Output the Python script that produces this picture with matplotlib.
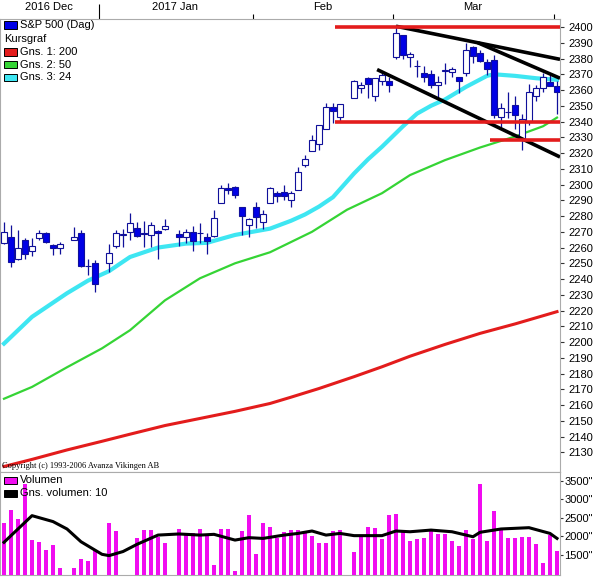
import matplotlib
matplotlib.use('Agg')
import matplotlib.pyplot as plt
from matplotlib.patches import Rectangle
import numpy as np

plt.rcParams['font.family'] = ['Liberation Sans', 'DejaVu Sans']

# weekday slots: 0 = 2016-12-13 ... 79 = 2017-04-03, None = market closed
opens = [2263, 2267, 2253, 2265, 2258, 2266, 2269, 2261.5, 2259.5, None,
         2265, 2269, 2248, 2250, None, 2250.5, 2261, 2268, 2270, 2272.5,
         2269.5, 2268, 2270.5, 2272, None, 2268.5, 2267, 2270, 2269.5, 2267,
         2267.5, 2288.5, 2298, 2298.5, 2285.5, 2274, 2285.5, 2276.5, 2288.5, 2294.5,
         2295.5, 2290, 2296.5, 2312.5, 2321.5, 2326, 2335.5, 2349.5, 2343, None,
         2355, 2361, 2367.5, 2356, 2365.5, 2366, 2381, 2395, 2381, 2375.5,
         2370.5, 2370, 2363.5, 2372, 2371.5, 2368.5, 2370.5, 2387.5, 2383.5, 2378,
         2379, 2343, 2346, 2350.5, 2329, 2340, 2356.5, 2361.5, 2365, 2362.5]
highs = [2276, 2274, 2271, 2266, 2266, 2271, 2270, 2262, 2263.5, None,
         2273, 2271, 2253, 2252, None, 2262, 2271, 2272, 2282, 2276,
         2277, 2276, 2271, 2278, None, 2271, 2272, 2273.5, 2275.5, 2269,
         2284, 2300, 2301, 2299, 2286, 2279, 2289, 2284, 2298.5, 2296,
         2299.5, 2296, 2311, 2319, 2331.5, 2337.5, 2351.5, 2351.5, 2351, None,
         2366.5, 2365, 2368.5, 2367.5, 2371.5, 2368, 2401, 2395, 2384, 2379,
         2375, 2373, 2369, 2377, 2374.5, 2368.5, 2390, 2388, 2385.5, 2379.5,
         2382, 2352, 2359, 2356, 2345, 2364, 2363.5, 2370.5, 2370.5, 2366]
lows = [2262, 2247.5, 2252, 2252.5, 2254.5, 2265, 2263, 2255, 2256, None,
        2264.5, 2247.5, 2242.5, 2232, None, 2244.5, 2260, 2260.5, 2264.5, 2266.5,
        2260.5, 2260.5, 2253, 2271, None, 2261, 2263, 2257.5, 2263, 2256,
        2266.5, 2288, 2294, 2291.5, 2268, 2267, 2272.5, 2271.5, 2288, 2289,
        2290, 2285.5, 2296.5, 2311, 2321.5, 2322, 2335, 2339, 2339.5, None,
        2355, 2358, 2355, 2353, 2363.5, 2359, 2380, 2380, 2374.5, 2368,
        2365, 2361, 2354.5, 2364, 2368.5, 2358, 2369, 2377, 2377.5, 2369.5,
        2342, 2336.5, 2342, 2335.5, 2322, 2337.5, 2353, 2358.5, 2362.5, 2344.5]
closes = [2270, 2251, 2260, 2256, 2261, 2269, 2263.5, 2259.5, 2262, None,
          2267, 2248, 2248, 2237, None, 2256.5, 2269, 2268.5, 2275.5, 2267.5,
          2268.5, 2274, 2269.5, 2273.5, None, 2266.5, 2270, 2264, 2269, 2264,
          2279, 2298, 2296.5, 2293.5, 2280, 2278, 2279.5, 2281, 2297.5, 2292.5,
          2293, 2294.5, 2308, 2316, 2328, 2337.5, 2349.5, 2347, 2351, None,
          2365.5, 2363, 2364, 2367.5, 2369.5, 2363.5, 2396, 2382, 2383, 2375,
          2368.5, 2363, 2365, 2373, 2373.5, 2365.5, 2385.5, 2381.5, 2378.5, 2373.5,
          2344, 2348.5, 2346, 2344, 2341.5, 2358.5, 2361, 2368, 2362.5, 2359]

volume = [2345, 2700, 2460, 3400, 1890, 1830, 1620, 1760, 1130, None,
          1130, 1370, 1320, 1620, None, 2345, 2135, None, None, 1940,
          2160, 2160, 1980, 1800, None, 2190, 2030, 2070, 2190, 2030,
          1215, 2190, 2190, 1055, 2135, 2570, 1515, 2345, 2250, 1940,
          2100, 2160, 2160, 2100, 2010, 1820, 1820, 2135, 2160, None,
          1580, 2010, 2250, 2225, 1920, 2570, 2595, 2160, 1865, 1920,
          1955, 2135, 2055, 2055, 1865, 1740, 2160, 1920, 3400, 1865,
          2675, 2160, 1955, 1955, 1980, 1980, 1775, 1260, 2030, 1595]

# moving averages (slot, value)
ma24_x = [0, 4, 9, 12, 15, 18, 22, 26, 29, 33, 38, 41, 43, 45, 47, 50, 52, 54, 57, 59, 61,
          63, 66, 69, 70, 73, 76, 79]
ma24_y = [2199, 2216, 2231, 2239, 2245, 2254, 2260, 2262.5, 2263, 2268, 2272, 2277, 2281, 2286,
          2292, 2307, 2316, 2324, 2337, 2345, 2350, 2354, 2362, 2369, 2370, 2369, 2367.5, 2366.5]
ma50_x = [0, 4, 9, 14, 18, 23, 28, 33, 38, 44, 49, 54, 58, 63, 68, 73, 77, 79]
ma50_y = [2164, 2171.5, 2184, 2196, 2207.5, 2226.5, 2240.5, 2250, 2257, 2270, 2284,
          2294.5, 2306, 2315.5, 2323.5, 2330.5, 2337, 2342.5]
ma200_x = [0, 4, 9, 14, 18, 23, 28, 33, 38, 41, 45, 50, 54, 58, 63, 68, 73, 79]
ma200_y = [2121, 2125.5, 2131.5, 2137, 2141.5, 2147, 2151.5, 2156, 2161, 2165, 2170.5,
           2178, 2184.3, 2191, 2198.5, 2205.5, 2211.5, 2219.3]
volma_x = [0, 4, 7, 9, 11, 14, 15, 17, 19, 22, 25, 28, 30, 33, 35, 37, 40, 42, 44, 46, 48,
           50, 54, 56, 58, 61, 64, 67, 68, 71, 75, 78, 79]
volma_y = [1830, 2550, 2390, 2190, 1845, 1505, 1470, 1580, 1775, 2025, 2055, 2025, 2045, 1890,
           1955, 1935, 2025, 2070, 2135, 2025, 2070, 2010, 2010, 2135, 2115, 2160, 2115, 1980,
           2100, 2190, 2225, 2070, 1935]

# drawn trend lines: (slot, price) start and end
trend_lines = [((56, 2400.5), (79.43, 2379.5)),
               ((67.7, 2390), (79.43, 2367.5)),
               ((53.3, 2373), (79.43, 2317.5))]
levels = [(47.3, 2400), (47.3, 2340), (69.4, 2328.5)]

month_starts = [14, 36, 56, 79]
month_names = ['2016 Dec', '2017 Jan', 'Feb', 'Mar']

W, H = 596, 577
blue = '#0000e6'
edge = '#10109a'
cyan = '#3ee6f2'
green = '#35d435'
red = '#e31c1c'
magenta = '#f00cf0'
frame = '#ababab'


def px(xp, yp):
    return xp / W, 1 - yp / H


fig = plt.figure(figsize=(W / 100, H / 100), dpi=100, facecolor='white')
ax = fig.add_axes([0, 1 - 472 / H, 560 / W, 453 / H])
axv = fig.add_axes([0, 1 - 575 / H, 560 / W, 103 / H])

xmin, xmax = -4 / 7, 556 / 7
o = np.array(opens, dtype=float)
h = np.array(highs, dtype=float)
l = np.array(lows, dtype=float)
c = np.array(closes, dtype=float)
v = np.array(volume, dtype=float)
x = np.arange(len(c))
m = ~np.isnan(c)
up = c >= o

# moving averages
ax.plot(ma200_x, ma200_y, color=red, lw=2.2, zorder=2, solid_joinstyle='round')
ax.plot(ma50_x, ma50_y, color=green, lw=1.6, zorder=2, solid_joinstyle='round')
ax.plot(ma24_x, ma24_y, color=cyan, lw=3.0, zorder=2, solid_joinstyle='round')

# candles
ax.vlines(x[m], l[m], h[m], color=edge, lw=0.9, zorder=3)
ax.bar(x[m], np.abs(c - o)[m], bottom=np.minimum(o, c)[m], width=0.72,
       color=np.where(up, 'white', blue)[m], edgecolor=edge, linewidth=0.8, zorder=4)

# drawings
for (x0, y0), (x1, y1) in trend_lines:
    ax.plot([x0, x1], [y0, y1], color='black', lw=2.6, zorder=5, solid_capstyle='butt')
for x0, lev in levels:
    ax.plot([x0, xmax], [lev, lev], color=red, lw=2.6, zorder=5, solid_capstyle='butt')

ax.set_xlim(xmin, xmax)
ax.set_ylim(2117.5, 2405.1)
ax.yaxis.tick_right()
ax.set_yticks(range(2130, 2401, 10))
ax.tick_params(axis='y', length=3, width=0.8, pad=3, labelsize=8, color='#333333')

bounds = [s - 0.5 for s in month_starts]
ax.xaxis.tick_top()
ax.set_xticks(bounds)
ax.set_xticklabels([])
ax.tick_params(axis='x', length=3.6, width=0.8, color='black')
ax.xaxis.get_major_ticks()[0].tick2line.set_markersize(10.5)
edges = [xmin] + bounds
for name, a, b in zip(month_names, edges[:-1], edges[1:]):
    ax.text((a + b) / 2, 1 + 12 / 453, name, transform=ax.get_xaxis_transform(),
            ha='center', va='center', fontsize=8)

# volume panel
vbot = 946
vm = ~np.isnan(v)
axv.bar(x[vm], v[vm] - vbot, bottom=vbot, width=0.55, color=magenta, zorder=3)
axv.plot(volma_x, volma_y, color='black', lw=2.2, zorder=4, solid_joinstyle='round')
axv.set_xlim(xmin, xmax)
axv.set_ylim(vbot, 3730)
axv.yaxis.tick_right()
axv.set_yticks([1500, 2000, 2500, 3000, 3500])
axv.set_yticklabels(['%d"' % t for t in [1500, 2000, 2500, 3000, 3500]])
axv.tick_params(axis='y', length=2.5, width=0.8, pad=0.5, labelsize=8, color='#333333')
axv.set_xticks([])

for a in (ax, axv):
    for s in a.spines.values():
        s.set_color(frame)
        s.set_linewidth(0.8)

# legends
def legend_row(xp, yp, text, color=None):
    if color is not None:
        fig.patches.append(Rectangle(px(4, yp + 3.5), 13 / W, 7 / H, transform=fig.transFigure,
                                     facecolor=color, edgecolor='black', linewidth=0.7))
    fig.text(*px(xp, yp), text, va='center', ha='left', fontsize=8)


legend_row(20, 25, 'S&P 500 (Dag)', blue)
legend_row(4, 39.5, 'Kursgraf')
legend_row(20, 52, 'Gns. 1: 200', red)
legend_row(20, 64.5, 'Gns. 2: 50', green)
legend_row(20, 77.5, 'Gns. 3: 24', cyan)
legend_row(20, 480, 'Volumen', magenta)
legend_row(20, 493, 'Gns. volumen: 10', 'black')

fig.text(*px(2, 466), 'Copyright (c) 1993-2006 Avanza Vikingen AB', va='center', ha='left',
         fontsize=6, family=['Liberation Serif', 'DejaVu Serif'])

fig.savefig('out.png', dpi=100, facecolor='white')
